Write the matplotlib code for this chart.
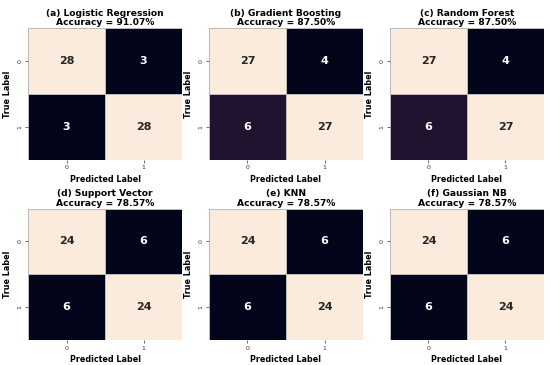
import matplotlib
matplotlib.use("Agg")
import matplotlib.pyplot as plt
import seaborn as sns
import numpy as np

# model names and accuracy
models = ['(a) Logistic Regression', '(b) Gradient Boosting', '(c) Random Forest',
          '(d) Support Vector', '(e) KNN', '(f) Gaussian NB']
accuracies = [91.07, 87.50, 87.50, 78.57, 78.57, 78.57]

# confusion matrices (rows: true label, cols: predicted)
cm_lr = [[28, 3], [3, 28]]
cm_gb = [[27, 4], [6, 27]]
cm_rf = [[27, 4], [6, 27]]
cm_svc = [[24, 6], [6, 24]]
cm_knn = [[24, 6], [6, 24]]
cm_nb = [[24, 6], [6, 24]]
matrices = [cm_lr, cm_gb, cm_rf, cm_svc, cm_knn, cm_nb]
tick_labels = ['0', '1']

fig, axes = plt.subplots(2, 3, figsize=(5.5, 3.65), dpi=100)
plt.subplots_adjust(left=0.051, right=0.989, bottom=0.068, top=0.923,
                    wspace=0.175, hspace=0.37)

for ax, name, acc, cm in zip(axes.flat, models, accuracies, matrices):
    sns.heatmap(np.array(cm), annot=True, fmt='d', cmap='rocket', cbar=False,
                linewidths=0.5, linecolor='#bbbbbb', ax=ax,
                xticklabels=tick_labels, yticklabels=tick_labels,
                annot_kws={'fontsize': 8, 'fontweight': 'bold'})
    ax.set_title(f'{name}\nAccuracy = {acc:.2f}%', fontsize=6.6, fontweight='bold',
                 linespacing=1.05, pad=2)
    ax.set_xlabel('Predicted Label', fontsize=5.8, fontweight='bold', labelpad=3)
    ax.set_ylabel('True Label', fontsize=5.8, fontweight='bold', labelpad=4)
    ax.tick_params(labelsize=4.5, length=2, width=0.5, pad=2, colors='#333333')
    plt.setp(ax.get_yticklabels(), rotation=90, va='center')

plt.savefig('out.png', dpi=100)
